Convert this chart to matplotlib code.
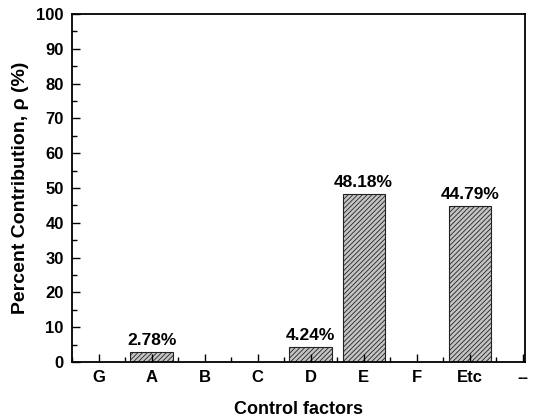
import matplotlib
matplotlib.use("Agg")
import matplotlib.pyplot as plt

plt.rcParams["font.family"] = ["Liberation Sans", "DejaVu Sans"]
plt.rcParams["font.weight"] = "bold"
plt.rcParams["hatch.linewidth"] = 0.6

factors = ["G", "A", "B", "C", "D", "E", "F", "Etc", "--"]
contribution = [0.0, 2.78, 0.0, 0.0, 4.24, 48.18, 0.0, 44.79, 0.0]
bar_labels = ["", "2.78%", "", "", "4.24%", "48.18%", "", "44.79%", ""]

fig = plt.figure(figsize=(5.33, 4.18), dpi=100)
ax = fig.add_axes([72 / 533, 1 - 362 / 418, (525 - 72) / 533, (362 - 14) / 418])

pos = list(range(1, len(factors) + 1))
for x, v, lab in zip(pos, contribution, bar_labels):
    if v <= 0:
        continue
    ax.bar(x, v, width=0.8, color="#c4c4c4", edgecolor="#222222", hatch="///////", lw=0.8)
    ax.text(x, v + 1.2, lab, ha="center", va="bottom", fontsize=12.5, fontweight="bold")

ax.set_xlim(0.5, 9.04)
ax.set_ylim(0, 100)
ax.set_xticks(pos)
ax.set_xticklabels(factors)
ax.set_xticks([p + 0.5 for p in pos[:-1]] + [0.5], minor=True)
ax.set_yticks(range(0, 101, 10))
ax.set_yticks(range(5, 100, 10), minor=True)

ax.tick_params(which="major", direction="in", length=6, width=1, labelsize=12, pad=6)
ax.tick_params(which="minor", direction="in", length=3.5, width=1)
for s in ax.spines.values():
    s.set_linewidth(1.3)

ax.set_xlabel("Control factors", fontsize=13, fontweight="bold", labelpad=11)
ax.set_ylabel("Percent Contribution, ρ (%)", fontsize=14, fontweight="bold", labelpad=5)

fig.savefig("out.png", dpi=100)
